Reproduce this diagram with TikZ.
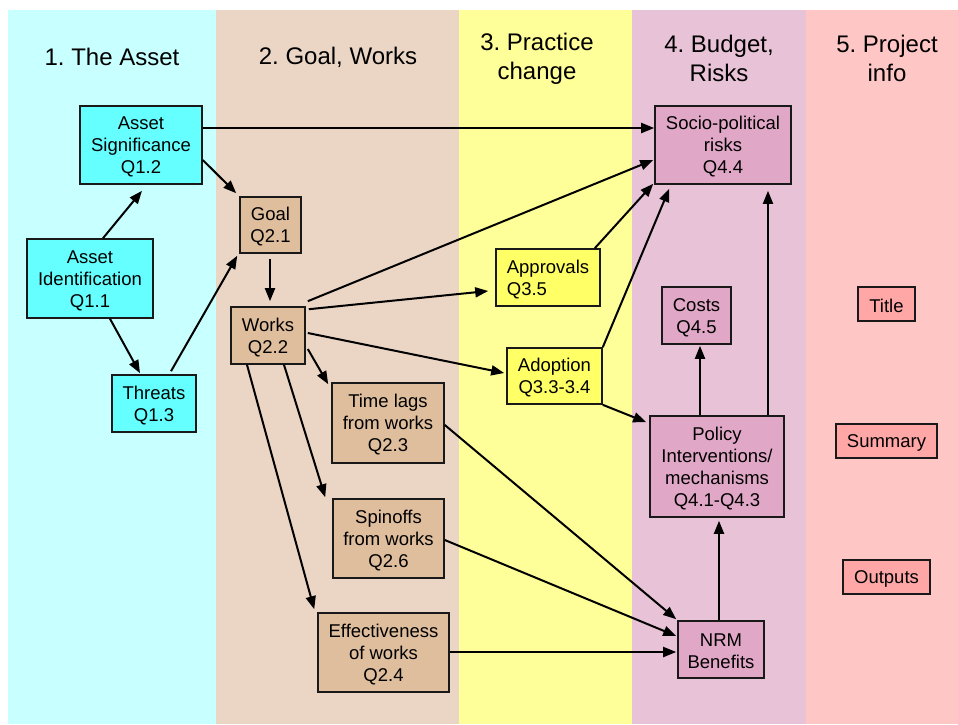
\documentclass[tikz,border=0pt]{standalone}
\usepackage{fontspec}
\setmainfont{Liberation Sans}
\usetikzlibrary{arrows.meta,calc}
\frenchspacing
\definecolor{bgA}{HTML}{C8FFFF}
\definecolor{bgB}{HTML}{EBD6C5}
\definecolor{bgC}{HTML}{FFFF99}
\definecolor{bgD}{HTML}{E8C3D7}
\definecolor{bgE}{HTML}{FFC6C6}
\definecolor{fA}{HTML}{66FFFF}
\definecolor{fB}{HTML}{DFBE9E}
\definecolor{fC}{HTML}{FFFF66}
\definecolor{fD}{HTML}{E1A7C7}
\definecolor{fE}{HTML}{FFA6A6}
\newcommand{\fl}{\rule{0pt}{17pt}}
\begin{document}
\begin{tikzpicture}[x=1pt,y=-1pt,
  box/.style={draw=black!90,line width=1.6pt,inner sep=0pt,align=center,
    font=\fontsize{18.5}{22}\selectfont},
  hdr/.style={inner sep=0pt,align=center,font=\fontsize{24}{29}\selectfont},
  conn/.style={line width=2pt,-{Triangle[length=13pt,width=10pt]}}]
\useasboundingbox (0,0) rectangle (958,724);
\fill[white] (0,0) rectangle (958,724);
\fill[bgA] (8,10) rectangle (216,724);
\fill[bgB] (216,10) rectangle (459,724);
\fill[bgC] (459,10) rectangle (632,724);
\fill[bgD] (632,10) rectangle (806,724);
\fill[bgE] (806,10) rectangle (958,724);
% headers
\node[hdr] (h1) at (112,57) {1. The Asset};
\node[hdr] (h2) at (338,57) {2. Goal, Works};
\node[hdr] (h3) at (537,58.5) {3. Practice\\change};
\node[hdr] (h4) at (719,58.5) {4. Budget,\\Risks};
\node[hdr] (h5) at (887,58.5) {5. Project\\info};
% boxes
\node[box,fill=fA,minimum width=122pt,minimum height=78pt] (AS) at (141,145) {\fl Asset\\Significance\\Q1.2};
\node[box,fill=fA,minimum width=126pt,minimum height=79pt] (AI) at (90,278.5) {\fl Asset\\Identification\\Q1.1};
\node[box,fill=fA,minimum width=84pt,minimum height=57pt] (TH) at (154,403.5) {\fl Threats\\Q1.3};
\node[box,fill=fB,minimum width=61pt,minimum height=56pt] (GO) at (270.5,225) {\fl Goal\\Q2.1};
\node[box,fill=fB,minimum width=74pt,minimum height=57pt] (WO) at (268,335.5) {\fl Works\\Q2.2};
\node[box,fill=fB,minimum width=112pt,minimum height=80pt] (TL) at (388,423) {\fl Time lags\\from works\\Q2.3};
\node[box,fill=fB,minimum width=111pt,minimum height=79pt] (SP) at (388.5,538.5) {\fl Spinoffs\\from works\\Q2.6};
\node[box,fill=fB,minimum width=131pt,minimum height=79pt] (EF) at (383.5,652.5) {\fl Effectiveness\\of works\\Q2.4};
\node[box,fill=fC,minimum width=104pt,minimum height=57pt,align=left] (AP) at (548,277.5) {\fl Approvals\\Q3.5};
\node[box,fill=fC,minimum width=95pt,minimum height=56pt] (AD) at (554.5,376) {\fl Adoption\\Q3.3-3.4};
\node[box,fill=fD,minimum width=136pt,minimum height=78pt] (SO) at (723,145) {\fl Socio-political\\risks\\Q4.4};
\node[box,fill=fD,minimum width=69pt,minimum height=57pt] (CO) at (696.5,315.5) {\fl Costs\\Q4.5};
\node[box,fill=fD,minimum width=134pt,minimum height=101pt] (PO) at (717,466.5) {\fl Policy\\Interventions/\\mechanisms\\Q4.1-Q4.3};
\node[box,fill=fD,minimum width=86pt,minimum height=57pt] (NR) at (721,649.5) {\fl NRM\\Benefits};
\node[box,fill=fE,minimum width=57pt,minimum height=34pt] (TI) at (886.5,304) {\fl Title};
\node[box,fill=fE,minimum width=101pt,minimum height=34pt] (SU) at (886.5,441) {\fl Summary};
\node[box,fill=fE,minimum width=87pt,minimum height=34pt] (OU) at (886.5,577) {\fl Outputs};
% connectors
\draw[conn] ([xshift=13pt]AI.north) -- ([xshift=1pt,yshift=-6pt]AS.south);
\draw[conn] ([xshift=20pt]AI.south) -- ([xshift=-14pt,yshift=1pt]TH.north);
\draw[conn] ([xshift=17pt,yshift=3pt]TH.north) -- ([xshift=-2pt,yshift=-2pt]GO.south west);
\draw[conn] ([yshift=-15pt]AS.east) -- ([xshift=-3pt,yshift=3pt]GO.north west);
\draw[conn] ([yshift=17pt]AS.east) -- ([yshift=17pt]SO.west);
\draw[conn] ([xshift=-0.5pt,yshift=-5pt]GO.south) -- ([xshift=-0.5pt,yshift=5pt]GO.south |- WO.north);
\draw[conn] ([xshift=2pt,yshift=5pt]WO.north east) -- ([xshift=-1pt,yshift=-15pt]SO.west);
\draw[conn] ([xshift=3pt,yshift=-3pt]WO.north east) -- ([xshift=-7pt,yshift=-13.5pt]AP.west);
\draw[conn] ([xshift=2pt,yshift=2.5pt]WO.east) -- ([xshift=-2pt,yshift=3pt]AD.west);
\draw[conn] ([xshift=2pt,yshift=-13.5pt]WO.east) -- ([xshift=-3pt,yshift=-2pt]TL.north west);
\draw[conn] ([xshift=16pt]WO.south) -- ([xshift=-7pt,yshift=1pt]SP.north west);
\draw[conn] ([xshift=-21pt]WO.south) -- ([xshift=-3pt,yshift=3pt]EF.north west);
\draw[conn] ([yshift=-2pt]TL.east) -- ([xshift=-1pt,yshift=1pt]NR.north west);
\draw[conn] ([yshift=-1.5pt]SP.east) -- ([xshift=-1pt,yshift=13.5pt]NR.west);
\draw[conn] ([yshift=0.5pt]EF.east) -- ([xshift=-1pt,yshift=0.5pt]EF.east -| NR.west);
\draw[conn] ([xshift=-2pt]NR.north) -- ([xshift=-2pt,yshift=-3pt]NR.north |- PO.south);
\draw[conn] ([xshift=-17pt]PO.north) -- ([xshift=-17pt,yshift=-1pt]PO.north |- CO.south);
\draw[conn] ([xshift=51pt]PO.north) -- ([xshift=51pt,yshift=-6pt]PO.north |- SO.south);
\draw[conn] (AD.north east) -- ([xshift=15pt,yshift=-4pt]SO.south west);
\draw[conn] ([xshift=-6pt]AP.north east) -- ([xshift=-1pt,yshift=1pt]SO.south west);
\draw[conn] (AD.south east) -- ([xshift=-3pt,yshift=-7pt]PO.north west);
\end{tikzpicture}
\end{document}
